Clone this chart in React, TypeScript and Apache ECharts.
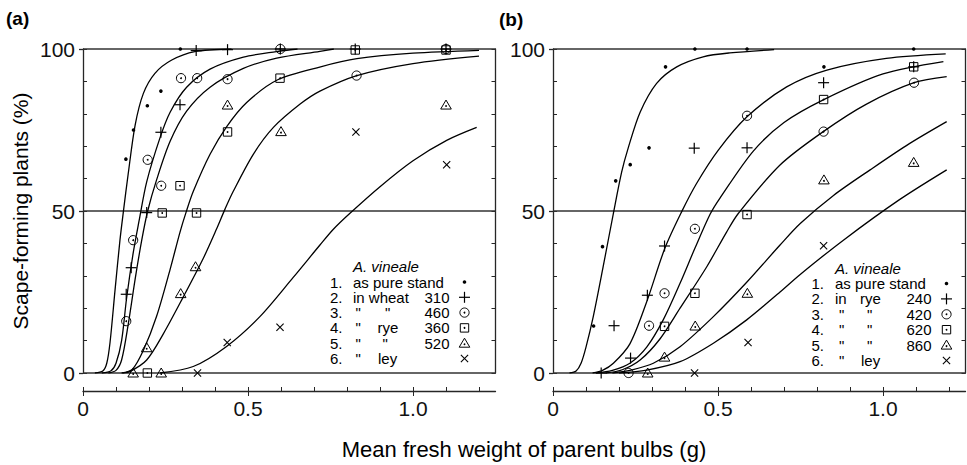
import React, { useEffect, useRef } from "react";
import * as echarts from "echarts";

// ---------- tick values ----------
const X_MINOR_TICKS = [0, 0.1, 0.2, 0.3, 0.4, 0.5, 0.6, 0.7, 0.8, 0.9, 1.0, 1.1, 1.2];
const X_MAJOR_TICKS = [0, 0.5, 1.0];
const Y_MINOR_TICKS = [0, 10, 20, 30, 40, 50, 60, 70, 80, 90, 100];
const Y_MAJOR_TICKS = [0, 50, 100];
const Y_REF_LINES = [0, 50, 100];

// ---------- panel (a) observed points ----------
const A_DOT = [[0.13, 66], [0.153, 75], [0.195, 82.5], [0.236, 87], [0.295, 100]];
const A_PLUS = [[0.131, 24.3], [0.146, 32.5], [0.193, 49.5], [0.236, 74.3], [0.294, 82.8], [0.343, 99.5], [0.438, 99.8], [0.598, 100], [0.825, 100], [1.1, 100]];
const A_CIRCLE = [[0.131, 16], [0.152, 41], [0.196, 65.8], [0.237, 57.8], [0.297, 91], [0.346, 91], [0.438, 90.7], [0.598, 100], [0.829, 91.8], [1.1, 100]];
const A_SQUARE = [[0.195, 0], [0.24, 49.4], [0.294, 57.8], [0.344, 49.4], [0.438, 74.4], [0.597, 91], [0.825, 99.7], [1.1, 99.7]];
const A_TRIANGLE = [[0.152, 0], [0.193, 7.8], [0.237, 0], [0.296, 24.5], [0.341, 32.8], [0.438, 82.7], [0.6, 74.5], [1.1, 82.7]];
const A_CROSS = [[0.347, 0], [0.437, 9.4], [0.597, 14.1], [0.827, 74.4], [1.102, 64.3]];

// ---------- panel (a) fitted curves ----------
const A_CURVE1 = [[0.036, 0], [0.06, 0.6], [0.072, 3], [0.082, 9.5], [0.097, 25.5], [0.112, 41], [0.122, 49.5], [0.137, 61.5], [0.158, 76.5], [0.183, 86.3], [0.218, 92.5], [0.269, 96.6], [0.339, 99.2], [0.45, 100]];
const A_CURVE2 = [[0.057, 0], [0.085, 0.7], [0.1, 3], [0.117, 10], [0.132, 23], [0.152, 37], [0.17, 47], [0.193, 59], [0.233, 72.5], [0.264, 80.5], [0.314, 88.2], [0.385, 93.8], [0.486, 97.5], [0.586, 99.2], [0.65, 100]];
const A_CURVE3 = [[0.077, 0], [0.1, 0.8], [0.117, 4], [0.137, 15], [0.158, 29], [0.178, 41], [0.196, 50], [0.223, 59.6], [0.264, 71.5], [0.314, 80.8], [0.385, 88.2], [0.486, 94], [0.587, 97.2], [0.718, 99.3], [0.76, 100]];
const A_CURVE4 = [[0.117, 0], [0.15, 1.2], [0.183, 7], [0.223, 17.5], [0.264, 32], [0.294, 43.5], [0.312, 49.5], [0.334, 56], [0.385, 67.5], [0.435, 76], [0.496, 83.5], [0.59, 90.5], [0.72, 94.5], [0.83, 97], [1.0, 98.7], [1.2, 99.6]];
const A_CURVE5 = [[0.12, 0], [0.145, 0.6], [0.193, 4], [0.243, 12], [0.304, 23.5], [0.365, 35.5], [0.405, 44.5], [0.43, 50.5], [0.455, 56], [0.516, 67.5], [0.577, 75.8], [0.658, 83], [0.718, 87], [0.83, 91.8], [1.0, 95.5], [1.2, 97.8]];
const A_CURVE6 = [[0.233, 0], [0.334, 2], [0.435, 8.2], [0.536, 17.4], [0.637, 29.5], [0.718, 39.5], [0.758, 44.3], [0.809, 49.3], [0.9, 57.5], [1.0, 65.5], [1.102, 71.8], [1.193, 75.8]];

// ---------- panel (b) observed points ----------
const B_DOT = [[0.123, 14.5], [0.15, 39], [0.19, 59.3], [0.234, 64.3], [0.291, 69.5], [0.341, 94.5], [0.43, 100], [0.588, 100], [0.821, 94.5], [1.093, 100]];
const B_PLUS = [[0.146, 0], [0.185, 14.6], [0.235, 4.6], [0.286, 24], [0.338, 39.2], [0.428, 69.4], [0.588, 69.5], [0.82, 89.6], [1.093, 94.5]];
const B_CIRCLE = [[0.229, 0], [0.291, 14.6], [0.338, 24.6], [0.43, 44.5], [0.588, 79.4], [0.82, 74.5], [1.094, 89.6]];
const B_SQUARE = [[0.338, 14.4], [0.43, 24.6], [0.588, 48.9], [0.82, 84.4], [1.093, 94.5]];
const B_TRIANGLE = [[0.287, 0], [0.338, 4.9], [0.431, 14.5], [0.589, 24.6], [0.821, 59.6], [1.093, 65]];
const B_CROSS = [[0.429, 0], [0.591, 9.4], [0.82, 39.3]];

// ---------- panel (b) fitted curves ----------
const B_CURVE1 = [[0.05, 0], [0.07, 0.6], [0.085, 3], [0.1, 8], [0.122, 17.4], [0.152, 32.8], [0.183, 49.3], [0.208, 62], [0.228, 69.5], [0.264, 80.5], [0.314, 89.4], [0.375, 94.5], [0.455, 97.6], [0.536, 98.8], [0.67, 99.8]];
const B_CURVE2 = [[0.12, 0], [0.15, 0.8], [0.183, 3], [0.233, 9], [0.284, 22], [0.339, 38.5], [0.39, 49.8], [0.435, 58.5], [0.501, 68.8], [0.587, 79], [0.708, 88.3], [0.83, 93.5], [1.01, 97.1], [1.19, 98.5]];
const B_CURVE3 = [[0.13, 0], [0.18, 0.8], [0.233, 3], [0.284, 8], [0.334, 16.4], [0.385, 27.7], [0.43, 38.5], [0.476, 49], [0.506, 54], [0.607, 68.5], [0.7, 77.3], [0.819, 84.3], [1.0, 92.3], [1.183, 96.1]];
const B_CURVE4 = [[0.16, 0], [0.21, 1], [0.264, 4], [0.324, 10.5], [0.385, 20], [0.466, 32.8], [0.526, 43.5], [0.562, 49.3], [0.688, 64.2], [0.819, 74.5], [0.95, 83], [1.094, 89.6], [1.193, 91.5]];
const B_CURVE5 = [[0.18, 0], [0.24, 1], [0.304, 3], [0.385, 8.1], [0.486, 17.4], [0.587, 28], [0.688, 39.5], [0.75, 46.2], [0.85, 54.8], [0.961, 62.7], [1.08, 70.8], [1.193, 77.6]];
const B_CURVE6 = [[0.2, 0], [0.284, 0.9], [0.385, 3.5], [0.486, 9.2], [0.587, 16.4], [0.688, 25], [0.75, 30.5], [0.88, 41], [1.05, 53.5], [1.193, 62.7]];

// ---------- legend texts ----------
const LEGEND_TITLE = "A. vineale";
const LEGEND_NUMS = ["1.", "2.", "3.", "4.", "5.", "6."];
const LEGEND_A_COL1 = ["as pure stand", "in wheat", "\"", "\"", "\"", "\""];
const LEGEND_A_COL2 = ["", "", "\"", "rye", "\"", "ley"];
const LEGEND_A_VALUES = ["", "310", "460", "360", "520", ""];
const LEGEND_B_COL1 = ["as pure stand", "in", "\"", "\"", "\"", "\""];
const LEGEND_B_COL2 = ["", "rye", "\"", "\"", "\"", "ley"];
const LEGEND_B_VALUES = ["", "240", "420", "620", "860", ""];
const MARKER_KINDS = ["dot", "plus", "circle", "square", "triangle", "cross"];

const FONT = '"Liberation Sans", Arial, Helvetica, sans-serif';
const AXIS_COLOR = "#262626";

function markerEls(kind: string, cx: number, cy: number): any[] {
  const st = { fill: "none", stroke: "#000", lineWidth: 1 };
  const dot = (r: number, y = cy) => ({ type: "circle", shape: { cx, cy: y, r }, style: { fill: "#000", stroke: "none" } });
  switch (kind) {
    case "dot":
      return [dot(1.8)];
    case "plus":
      return [
        { type: "line", shape: { x1: cx - 5.5, y1: cy, x2: cx + 5.5, y2: cy }, style: { stroke: "#000", lineWidth: 1.2 } },
        { type: "line", shape: { x1: cx, y1: cy - 5.5, x2: cx, y2: cy + 5.5 }, style: { stroke: "#000", lineWidth: 1.2 } },
      ];
    case "circle":
      return [{ type: "circle", shape: { cx, cy, r: 4.6 }, style: st }, dot(0.9)];
    case "square":
      return [{ type: "rect", shape: { x: cx - 4.2, y: cy - 4.2, width: 8.4, height: 8.4 }, style: st }, dot(0.9)];
    case "triangle":
      return [
        { type: "polygon", shape: { points: [[cx, cy - 5], [cx + 5.3, cy + 4], [cx - 5.3, cy + 4]] }, style: st },
        dot(0.9, cy + 1),
      ];
    case "cross":
    default:
      return [
        { type: "line", shape: { x1: cx - 3.6, y1: cy - 3.6, x2: cx + 3.6, y2: cy + 3.6 }, style: { stroke: "#000", lineWidth: 1.1 } },
        { type: "line", shape: { x1: cx - 3.6, y1: cy + 3.6, x2: cx + 3.6, y2: cy - 3.6 }, style: { stroke: "#000", lineWidth: 1.1 } },
      ];
  }
}

function xAxes(g: number): any[] {
  const base = { type: "value", gridIndex: g, min: 0, max: 1.25, position: "bottom", offset: 18, splitLine: { show: false } };
  return [
    {
      ...base,
      interval: 0.1,
      axisLine: { show: true, onZero: false, lineStyle: { color: AXIS_COLOR, width: 1.3 } },
      axisTick: { show: true, inside: true, length: 4, customValues: X_MINOR_TICKS, lineStyle: { color: AXIS_COLOR, width: 1 } },
      axisLabel: { show: false },
    },
    {
      ...base,
      interval: 0.5,
      axisLine: { show: false, onZero: false },
      axisTick: { show: true, inside: false, length: 5, customValues: X_MAJOR_TICKS, lineStyle: { color: AXIS_COLOR, width: 1 } },
      axisLabel: {
        show: true,
        customValues: X_MAJOR_TICKS,
        formatter: (v: number) => (v === 0 ? "0" : v.toFixed(1)),
        fontSize: 21,
        fontFamily: FONT,
        color: "#111",
        margin: 7,
      },
    },
  ];
}

function yAxes(g: number): any[] {
  const base = { type: "value", gridIndex: g, min: 0, max: 100, splitLine: { show: false } };
  const minor = (pos: string) => ({
    ...base,
    position: pos,
    interval: 10,
    axisLine: { show: true, onZero: false, lineStyle: { color: AXIS_COLOR, width: 1.3 } },
    axisTick: { show: true, inside: true, length: 4, customValues: Y_MINOR_TICKS, lineStyle: { color: AXIS_COLOR, width: 1 } },
    axisLabel: { show: false },
  });
  return [
    minor("left"),
    {
      ...base,
      position: "left",
      interval: 50,
      axisLine: { show: false, onZero: false },
      axisTick: { show: true, inside: false, length: 4, customValues: Y_MAJOR_TICKS, lineStyle: { color: AXIS_COLOR, width: 1.3 } },
      axisLabel: { show: true, customValues: Y_MAJOR_TICKS, fontSize: 21, fontFamily: FONT, color: "#111", margin: 8 },
    },
    minor("right"),
  ];
}

function curveSeries(data: number[][], xi: number, yi: number, withRefLines: boolean): any {
  const s: any = {
    type: "line",
    xAxisIndex: xi,
    yAxisIndex: yi,
    data,
    smooth: 0.3,
    showSymbol: false,
    symbol: "none",
    silent: true,
    lineStyle: { color: "#000", width: 1.3 },
    z: 3,
  };
  if (withRefLines) {
    s.markLine = {
      silent: true,
      symbol: ["none", "none"],
      label: { show: false },
      lineStyle: { color: "#333", width: 1.6, type: "solid" },
      data: Y_REF_LINES.map((v) => ({ yAxis: v })),
      z: 2,
    };
  }
  return s;
}

function markerSeries(data: number[][], kind: string, xi: number, yi: number): any {
  return {
    type: "custom",
    xAxisIndex: xi,
    yAxisIndex: yi,
    data,
    encode: { x: 0, y: 1 },
    silent: true,
    clip: false,
    z: 5,
    renderItem: (_p: any, api: any) => {
      const pt = api.coord([api.value(0), api.value(1)]);
      return { type: "group", children: markerEls(kind, pt[0], pt[1]) };
    },
  };
}

function textEl(text: string, x: number, y: number, opts: any = {}): any {
  const align = opts.align || "left";
  return {
    type: "text",
    x,
    y,
    rotation: opts.rotation || 0,
    silent: true,
    style: {
      text,
      fill: "#000",
      fontSize: opts.fontSize || 15,
      fontFamily: FONT,
      fontStyle: opts.fontStyle || "normal",
      fontWeight: opts.fontWeight || "normal",
      align,
      verticalAlign: "middle",
      textAlign: align,
      textVerticalAlign: "middle",
    },
  };
}

function legendEls(
  col1: string[],
  col2: string[],
  values: string[],
  pos: { title: [number, number]; numX: number; c1: number[]; c2: number[]; valX: number; symX: number; y0: number; dy: number }
): any[] {
  const els: any[] = [];
  els.push(textEl(LEGEND_TITLE, pos.title[0], pos.title[1], { fontStyle: "italic" }));
  LEGEND_NUMS.forEach((n, i) => {
    const y = pos.y0 + pos.dy * i;
    els.push(textEl(n, pos.numX, y));
    if (col1[i]) els.push(textEl(col1[i], pos.c1[i], y));
    if (col2[i]) els.push(textEl(col2[i], pos.c2[i], y));
    if (values[i]) els.push(textEl(values[i], pos.valX, y, { align: "right" }));
    els.push({ type: "group", silent: true, children: markerEls(MARKER_KINDS[i], pos.symX, y) });
  });
  return els;
}

export default function App() {
  const ref = useRef<HTMLDivElement>(null);
  useEffect(() => {
    if (!ref.current) return;
    const chart = echarts.init(ref.current, null, { renderer: "svg" });

    const aCurves = [A_CURVE1, A_CURVE2, A_CURVE3, A_CURVE4, A_CURVE5, A_CURVE6];
    const bCurves = [B_CURVE1, B_CURVE2, B_CURVE3, B_CURVE4, B_CURVE5, B_CURVE6];
    const aPts = [A_DOT, A_PLUS, A_CIRCLE, A_SQUARE, A_TRIANGLE, A_CROSS];
    const bPts = [B_DOT, B_PLUS, B_CIRCLE, B_SQUARE, B_TRIANGLE, B_CROSS];

    const series: any[] = [];
    aCurves.forEach((c, i) => series.push(curveSeries(c, 0, 0, i === 0)));
    bCurves.forEach((c, i) => series.push(curveSeries(c, 2, 3, i === 0)));
    aPts.forEach((p, i) => series.push(markerSeries(p, MARKER_KINDS[i], 0, 0)));
    bPts.forEach((p, i) => series.push(markerSeries(p, MARKER_KINDS[i], 2, 3)));

    const graphic: any[] = [
      textEl("(a)", 6, 18, { fontSize: 19, fontWeight: "bold" }),
      textEl("(b)", 499, 19, { fontSize: 19, fontWeight: "bold" }),
      textEl("Scape-forming plants (%)", 20, 211, { fontSize: 21, align: "center", rotation: Math.PI / 2 }),
      textEl("Mean fresh weight of parent bulbs (g)", 524, 449, { fontSize: 22, align: "center" }),
      ...legendEls(LEGEND_A_COL1, LEGEND_A_COL2, LEGEND_A_VALUES, {
        title: [353, 266],
        numX: 330,
        c1: [353, 353, 355.5, 355.5, 355.5, 355.5],
        c2: [0, 0, 385, 377.5, 382.5, 378],
        valX: 449.5,
        symX: 464.5,
        y0: 282,
        dy: 15.3,
      }),
      ...legendEls(LEGEND_B_COL1, LEGEND_B_COL2, LEGEND_B_VALUES, {
        title: [835, 268],
        numX: 811.5,
        c1: [835, 835, 839, 839, 839, 839],
        c2: [0, 860, 867, 867, 867, 861],
        valX: 931.5,
        symX: 946.5,
        y0: 283.5,
        dy: 15.4,
      }),
    ];

    chart.setOption({
      animation: false,
      backgroundColor: "#fff",
      grid: [
        { left: 83, top: 49, width: 412.5, height: 324, containLabel: false },
        { left: 553, top: 49, width: 412.5, height: 324, containLabel: false },
      ],
      xAxis: [...xAxes(0), ...xAxes(1)],
      yAxis: [...yAxes(0), ...yAxes(1)],
      series,
      graphic,
    });
    return () => chart.dispose();
  }, []);

  return <div ref={ref} style={{ position: "fixed", left: 0, top: 0, width: 967, height: 465 }} />;
}
